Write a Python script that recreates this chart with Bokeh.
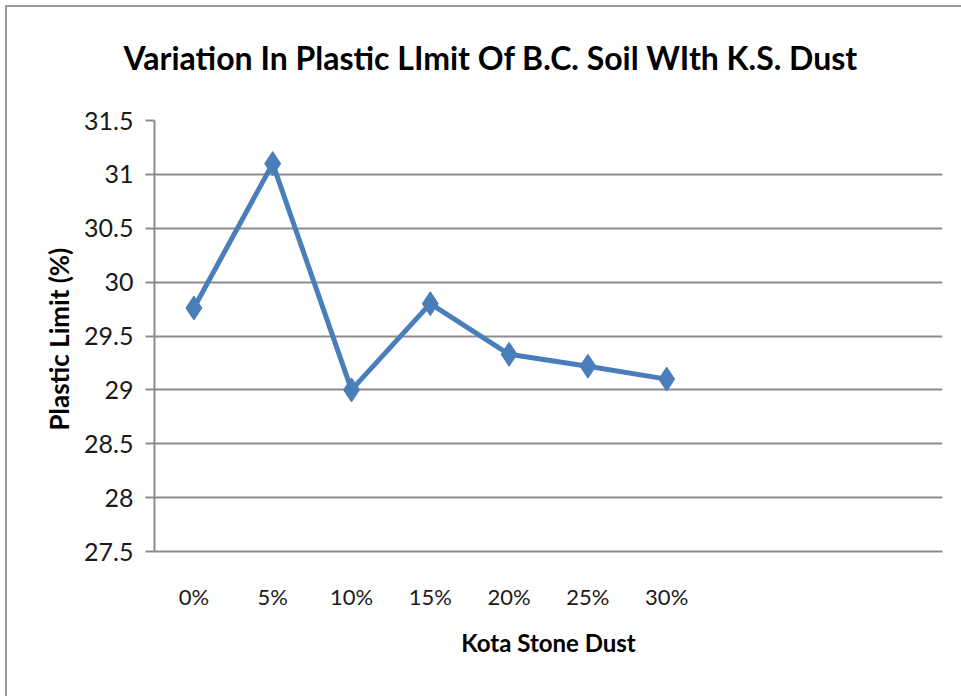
from bokeh.plotting import figure
from bokeh.models import Range1d, FixedTicker, CustomJSTickFormatter, InlineStyleSheet, Title
from bokeh.embed import file_html
from bokeh.resources import INLINE

# Kota stone dust content and measured plastic limit of B.C. soil
categories = ["0%", "5%", "10%", "15%", "20%", "25%", "30%"]
plastic_limit = [29.76, 31.1, 29.0, 29.8, 29.33, 29.22, 29.1]
y_ticks = [27.5, 28, 28.5, 29, 29.5, 30, 30.5, 31, 31.5]
n_slots = 10  # category slots on the axis (the last ones are empty)

title_text = "Variation  In Plastic LImit Of B.C. Soil WIth K.S. Dust"
x_title = "Kota Stone Dust"
y_title = "Plastic  Limit (%)"

FONT = "Lato"
GRID = "#8c8c8c"
BLUE = "#4a7ebb"

xs = [i + 0.5 for i in range(len(categories))]

frame_css = InlineStyleSheet(css="""
:host { position: relative; }
:host::after {
  content: "";
  position: absolute;
  left: 5px; top: 5px;
  width: calc(100% - 5px); height: calc(100% - 5px);
  border-top: 2px solid #9a9a9a;
  border-left: 2px solid #9a9a9a;
  box-sizing: border-box;
  pointer-events: none;
}
""")

p = figure(width=961, height=696, output_backend="svg", toolbar_location=None, title=None,
           x_range=Range1d(0, n_slots), y_range=Range1d(y_ticks[0], y_ticks[-1]),
           min_border_left=154, min_border_right=19, min_border_top=120, min_border_bottom=145,
           stylesheets=[frame_css])
p.background_fill_color = "white"
p.border_fill_color = "white"
p.outline_line_color = None

# blank band between the plot area and the chart title
p.add_layout(Title(text=" ", text_font=FONT, text_font_size="22px"), "above")
# chart title
p.add_layout(Title(text=title_text, align="left", offset=-31, text_font=FONT,
                   text_font_size="32px", text_font_style="bold", text_color="#000000"), "above")

# x axis: category labels centred in their slots, no tick marks
p.xaxis.ticker = FixedTicker(ticks=xs)
p.xaxis.major_label_overrides = {x: c for x, c in zip(xs, categories)}
p.xaxis.major_tick_out = 0
p.xaxis.major_tick_in = 0
p.xaxis.minor_tick_out = 0
p.xaxis.minor_tick_in = 0
p.xaxis.major_label_standoff = 31
p.xaxis.axis_line_color = GRID
p.xaxis.axis_line_width = 2
p.xaxis.axis_label = x_title
p.xaxis.axis_label_standoff = 15

# y axis
p.yaxis.ticker = FixedTicker(ticks=y_ticks)
p.yaxis.formatter = CustomJSTickFormatter(code="return tick.toString();")
p.yaxis.major_tick_out = 9
p.yaxis.major_tick_in = 0
p.yaxis.minor_tick_out = 0
p.yaxis.minor_tick_in = 0
p.yaxis.major_tick_line_color = GRID
p.yaxis.major_tick_line_width = 2
p.yaxis.major_label_standoff = 12
p.yaxis.axis_line_color = GRID
p.yaxis.axis_line_width = 2
p.yaxis.axis_label = y_title
p.yaxis.axis_label_standoff = 6

for ax in (p.xaxis, p.yaxis):
    ax.major_label_text_font = FONT
    ax.major_label_text_color = "#1a1a1a"
    ax.axis_label_text_font = FONT
    ax.axis_label_text_font_style = "bold"
    ax.axis_label_text_color = "#000000"
p.xaxis.major_label_text_font_size = "22px"
p.yaxis.major_label_text_font_size = "25px"
p.xaxis.axis_label_text_font_size = "24px"
p.yaxis.axis_label_text_font_size = "26px"

p.xgrid.grid_line_color = None
p.ygrid.grid_line_color = GRID
p.ygrid.grid_line_width = 2

p.line(xs, plastic_limit, line_color=BLUE, line_width=5)
p.scatter(xs, plastic_limit, marker="diamond", size=24, fill_color=BLUE, line_color=BLUE)

open("out.html", "w").write(file_html(p, INLINE))
